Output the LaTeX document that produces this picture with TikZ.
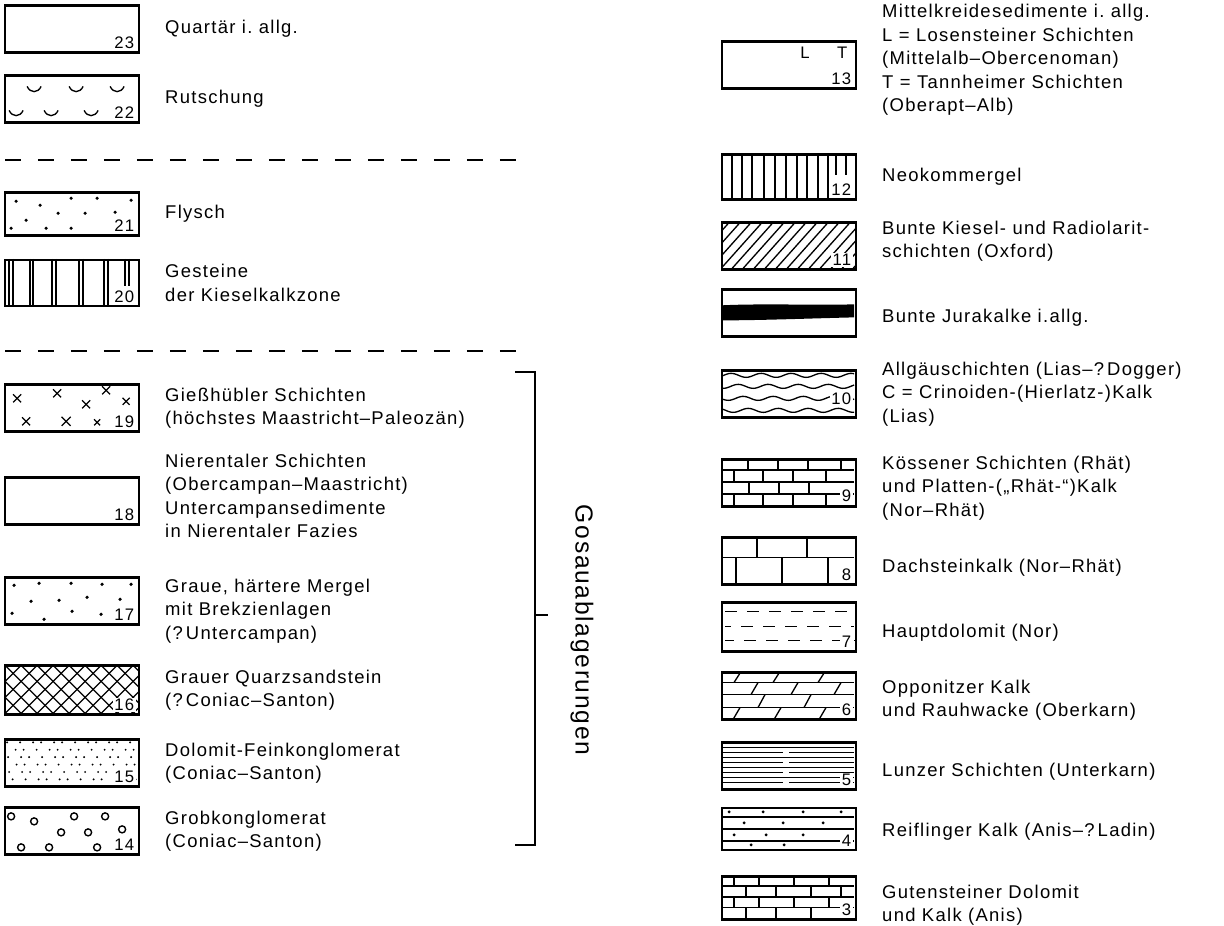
\documentclass[tikz,border=0pt]{standalone}
\usepackage{fontspec}
\setmainfont{Liberation Sans}[LetterSpace=7]
\usetikzlibrary{positioning}
\tikzset{
  legbox/.style={draw, line width=1.3pt, minimum width=2.67cm, minimum height=0.94cm, inner sep=0pt},
  lbl/.style={align=left, inner sep=0pt, font=\fontsize{10.5}{13.4}\selectfont},
  boxnum/.style={anchor=south east, fill=white, inner sep=0.8pt, font=\fontsize{9.5}{9.5}\selectfont},
  hatch/.style={line width=0.75pt},
  sepline/.style={dash pattern=on 0.32cm off 0.34cm, line width=0.8pt},
  brace/.style={line width=0.7pt}
}
\begin{document}
\begin{tikzpicture}[x=0.02cm, y=-0.02cm]
\useasboundingbox (0,0) rectangle (1224,926);

% left column
\node[legbox] (b23) at (72,29) {};
\node[boxnum] (n23) at ([shift={(-4,-3)}]b23.south east) {23};
\node[lbl, right=0.5cm of b23] (t23) {Quartär i.\ allg.};

\node[legbox] (b22) at (72,99) {};
\begin{scope}[shift={(b22.north west)}]
  \clip (b22.south west) rectangle (b22.north east);
  \foreach \x/\y in {30/12, 72/12, 113/12, 12/36, 47/36, 87/36}
    \draw[hatch] (\x-7,\y) .. controls (\x-4,\y+7) and (\x+4,\y+7) .. (\x+7,\y);
\end{scope}
\node[boxnum] (n22) at ([shift={(-4,-3)}]b22.south east) {22};
\node[lbl, right=0.5cm of b22] (t22) {Rutschung};

\coordinate (d1a) at (5,160);
\coordinate (d1b) at (532,160);
\draw[sepline] (d1a) -- (d1b);

\node[legbox, minimum height=0.86cm] (b21) at (72,214) {};
\begin{scope}[shift={(b21.north west)}]
  \foreach \x/\y in {12/10, 36/14, 67/7, 93/7, 127/9, 22/29, 54/22, 81/22, 111/21, 7/37, 42/37, 67/37}
    \fill (\x,\y) circle (1pt);
\end{scope}
\node[boxnum] (n21) at ([shift={(-4,-3)}]b21.south east) {21};
\node[lbl, right=0.5cm of b21] (t21) {Flysch};

\node[legbox, minimum height=0.92cm] (b20) at (72,283) {};
\begin{scope}[shift={(b20.north west)}]
  \foreach \x in {5,9,26,29,48,52,75,79,100,104}
    \draw[hatch] (\x,0) -- (\x,46);
  \foreach \x in {121,125}
    \draw[hatch] (\x,0) -- (\x,27);
\end{scope}
\node[boxnum] (n20) at ([shift={(-4,-3)}]b20.south east) {20};
\node[lbl, right=0.5cm of b20] (t20) {Gesteine\\der Kieselkalkzone};

\coordinate (d2a) at (5,351);
\coordinate (d2b) at (532,351);
\draw[sepline] (d2a) -- (d2b);

\node[legbox] (b19) at (72,408) {};
\begin{scope}[shift={(b19.north west)}]
  \foreach \x/\y/\s in {13/15/4, 53/10/4, 82/21/4, 102/7/4, 122/18/3.5, 22/38/4, 62/38/4.5, 93/39/3}
    \draw[hatch] (\x-\s,\y-\s) -- (\x+\s,\y+\s) (\x-\s,\y+\s) -- (\x+\s,\y-\s);
\end{scope}
\node[boxnum] (n19) at ([shift={(-4,-3)}]b19.south east) {19};
\node[lbl, right=0.5cm of b19] (t19) {Gießhübler Schichten\\(höchstes Maastricht--Paleozän)};

\node[legbox] (b18) at (72,501) {};
\node[boxnum] (n18) at ([shift={(-4,-3)}]b18.south east) {18};
\node[lbl, right=0.5cm of b18, yshift=0.1cm] (t18) {Nierentaler Schichten\\(Obercampan--Maastricht)\\Untercampansedimente\\in Nierentaler Fazies};

\node[legbox] (b17) at (72,601) {};
\begin{scope}[shift={(b17.north west)}]
  \foreach \x/\y in {10/9, 35/7, 67/7, 98/8, 127/8, 27/25, 55/24, 83/21, 116/23, 8/37, 40/43, 68/35, 97/38}
    \fill (\x,\y) circle (1pt);
\end{scope}
\node[boxnum] (n17) at ([shift={(-4,-3)}]b17.south east) {17};
\node[lbl, right=0.5cm of b17, yshift=-0.2cm] (t17) {Graue, härtere Mergel\\mit Brekzienlagen\\(?\,Untercampan)};

\node[legbox, minimum height=0.98cm] (b16) at (72,690) {};
\begin{scope}[shift={(b16.north west)}]
  \clip (b16.south west) rectangle (b16.north east);
  \foreach \k in {-48,-32,...,144} {
    \draw[hatch] (\k,0) -- ++(50,50);
    \draw[hatch] (\k,50) -- ++(50,-50);
  }
\end{scope}
\node[boxnum] (n16) at ([shift={(-4,-3)}]b16.south east) {16};
\node[lbl, right=0.5cm of b16] (t16) {Grauer Quarzsandstein\\(?\,Coniac--Santon)};

\node[legbox] (b15) at (72,763) {};
\begin{scope}[shift={(b15.north west)}]
  \clip (b15.south west) rectangle (b15.north east);
  \foreach \r in {0,...,5}
    \foreach \c in {0,...,11}
      \fill ({5+11*\c+5.5*mod(\r,2)+mod(7*\c+3*\r,5)-2}, {4+7.4*\r}) circle (0.6pt);
\end{scope}
\node[boxnum] (n15) at ([shift={(-4,-3)}]b15.south east) {15};
\node[lbl, right=0.5cm of b15] (t15) {Dolomit-Feinkonglomerat\\(Coniac--Santon)};

\node[legbox] (b14) at (72,831) {};
\begin{scope}[shift={(b14.north west)}]
  \foreach \x/\y in {7/10, 30/15, 70/10, 101/10, 57/26, 84/26, 118/23, 17/41, 45/41, 93/41}
    \draw[line width=0.8pt] (\x,\y) circle (2pt);
\end{scope}
\node[boxnum] (n14) at ([shift={(-4,-3)}]b14.south east) {14};
\node[lbl, right=0.5cm of b14] (t14) {Grobkonglomerat\\(Coniac--Santon)};

% Gosau bracket
\coordinate (gtopl) at (515,372);
\coordinate (gtop) at (535,372);
\coordinate (gbot) at (535,845);
\coordinate (gbotl) at (515,845);
\coordinate (gmid) at (535,615);
\coordinate (gmidr) at (548,615);
\draw[brace] (gtopl) -- (gtop) -- (gbot) -- (gbotl);
\draw[brace] (gmid) -- (gmidr);
\node[rotate=-90, inner sep=0pt, font=\fontsize{14}{16}\selectfont] (gosau) at (582,630) {Gosauablagerungen};

% right column
\node[legbox] (b13) at (789,65) {};
\begin{scope}[shift={(b13.north west)}]
  \node[font=\fontsize{9.5}{9.5}\selectfont, inner sep=0pt] (l13) at (84,12) {L};
  \node[font=\fontsize{9.5}{9.5}\selectfont, inner sep=0pt] (r13) at (121,12) {T};
\end{scope}
\node[boxnum] (n13) at ([shift={(-4,-3)}]b13.south east) {13};
\node[lbl, right=0.5cm of b13, yshift=0.1cm] (t13) {Mittelkreidesedimente i.\ allg.\\L = Losensteiner Schichten\\(Mittelalb--Obercenoman)\\T = Tannheimer Schichten\\(Oberapt--Alb)};

\node[legbox, minimum height=0.9cm] (b12) at (789,177) {};
\begin{scope}[shift={(b12.north west)}]
  \foreach \x in {11,21,31,43,54,65,76,86,97,107}
    \draw[hatch] (\x,0) -- (\x,45);
  \foreach \x in {115,125}
    \draw[hatch] (\x,0) -- (\x,22);
\end{scope}
\node[boxnum] (n12) at ([shift={(-4,-3)}]b12.south east) {12};
\node[lbl, right=0.5cm of b12] (t12) {Neokommergel};

\node[legbox] (b11) at (789,246) {};
\begin{scope}[shift={(b11.north west)}]
  \clip (b11.south west) rectangle (b11.north east);
  \foreach \k in {-44,-33,...,140}
    \draw[hatch] (\k,47) -- ++(42,-47);
\end{scope}
\node[boxnum] (n11) at ([shift={(-4,-3)}]b11.south east) {11};
\node[lbl, right=0.5cm of b11, yshift=0.1cm] (t11) {Bunte Kiesel- und Radiolarit-\\schichten (Oxford)};

\node[legbox] (bj) at (789,313) {};
\begin{scope}[shift={(bj.north west)}]
  \fill (0,17) .. controls (40,15) and (90,17) .. (133,16) -- (133,29) .. controls (90,30) and (40,32) .. (0,32) -- cycle;
\end{scope}
\node[lbl, right=0.5cm of bj, yshift=-0.1cm] (tj) {Bunte Jurakalke i.allg.};

\node[legbox] (b10) at (789,394) {};
\begin{scope}[shift={(b10.north west)}]
  \clip (b10.south west) rectangle (b10.north east);
  \foreach \w in {6,17,29,41}
    \draw[hatch] plot[domain=0:133, samples=70, smooth] (\x, {\w+2*sin(12*\x+25*\w)});
\end{scope}
\node[boxnum, anchor=east] (n10) at ([shift={(-4,5)}]b10.east) {10};
\node[lbl, right=0.5cm of b10] (t10) {Allgäuschichten (Lias--?\,Dogger)\\C = Crinoiden-(Hierlatz-)Kalk\\(Lias)};

\node[legbox] (b9) at (789,483) {};
\begin{scope}[shift={(b9.north west)}]
  \foreach \y in {11.5,23.5,35.5}
    \draw[hatch] (0,\y) -- (133,\y);
  \foreach \x in {27,57,87,120}
    \draw[hatch] (\x,0) -- (\x,11.5);
  \foreach \x in {13,42,72,105} {
    \draw[hatch] (\x,11.5) -- (\x,23.5);
    \draw[hatch] (\x,35.5) -- (\x,47);
  }
  \foreach \x in {28,58,88}
    \draw[hatch] (\x,23.5) -- (\x,35.5);
\end{scope}
\node[boxnum] (n9) at ([shift={(-4,-4)}]b9.south east) {9};
\node[lbl, right=0.5cm of b9, yshift=-0.1cm] (t9) {Kössener Schichten (Rhät)\\und Platten-(„Rhät-“)Kalk\\(Nor--Rhät)};

\node[legbox] (b8) at (789,561) {};
\begin{scope}[shift={(b8.north west)}]
  \draw[hatch] (0,21) -- (133,21);
  \foreach \x in {36,86}
    \draw[hatch] (\x,0) -- (\x,21);
  \foreach \x in {15,61,107}
    \draw[hatch] (\x,21) -- (\x,47);
\end{scope}
\node[boxnum] (n8) at ([shift={(-4,-3)}]b8.south east) {8};
\node[lbl, right=0.5cm of b8, yshift=-0.14cm] (t8) {Dachsteinkalk (Nor--Rhät)};

\node[legbox, minimum height=0.98cm] (b7) at (789,627) {};
\begin{scope}[shift={(b7.north west)}]
  \clip (b7.south west) rectangle (b7.north east);
  \foreach \y/\p in {10/0cm, 25/0.12cm, 39/0.06cm}
    \draw[hatch, dash pattern=on 0.24cm off 0.2cm, dash phase=\p] (4,\y) -- (133,\y);
\end{scope}
\node[boxnum] (n7) at ([shift={(-4,-3)}]b7.south east) {7};
\node[lbl, right=0.5cm of b7, yshift=-0.12cm] (t7) {Hauptdolomit (Nor)};

\node[legbox] (b6) at (789,696) {};
\begin{scope}[shift={(b6.north west)}]
  \clip (b6.south west) rectangle (b6.north east);
  \foreach \y in {11,23,36}
    \draw[hatch] (0,\y) -- (133,\y);
  \foreach \x in {13,52,97}
    \draw[hatch] (\x,11) -- (\x+7,0);
  \foreach \x in {30,70,113}
    \draw[hatch] (\x,23) -- (\x+7,11);
  \foreach \x in {37,83}
    \draw[hatch] (\x,36) -- (\x+7,23);
  \foreach \x in {12,53,98}
    \draw[hatch] (\x,48) -- (\x+7,36);
\end{scope}
\node[boxnum] (n6) at ([shift={(-4,-3)}]b6.south east) {6};
\node[lbl, right=0.5cm of b6, yshift=-0.08cm] (t6) {Opponitzer Kalk\\und Rauhwacke (Oberkarn)};

\node[legbox] (b5) at (789,766) {};
\begin{scope}[shift={(b5.north west)}]
  \foreach \y in {6,16,26,36}
    \draw[hatch] (0,\y) -- (133,\y);
  \foreach \y in {11,21,31,41} {
    \draw[hatch] (0,\y) -- (62,\y);
    \draw[hatch] (68,\y) -- (133,\y);
  }
\end{scope}
\node[boxnum] (n5) at ([shift={(-4,-3)}]b5.south east) {5};
\node[lbl, right=0.5cm of b5, yshift=-0.12cm] (t5) {Lunzer Schichten (Unterkarn)};

\node[legbox, minimum height=0.84cm] (b4) at (789,829) {};
\begin{scope}[shift={(b4.north west)}]
  \foreach \y in {10,22,34}
    \draw[hatch] (0,\y) -- (133,\y);
  \foreach \x/\y in {8/5, 42/5, 82/5, 120/5, 23/16, 62/16, 102/16, 13/28, 45/28, 82/28, 30/38, 63/38}
    \fill (\x,\y) circle (0.9pt);
\end{scope}
\node[boxnum] (n4) at ([shift={(-4,-3)}]b4.south east) {4};
\node[lbl, right=0.5cm of b4, yshift=-0.06cm] (t4) {Reiflinger Kalk (Anis--?\,Ladin)};

\node[legbox, minimum height=0.86cm] (b3) at (789,898) {};
\begin{scope}[shift={(b3.north west)}]
  \foreach \y in {10.75,21.5,32.25}
    \draw[hatch] (0,\y) -- (133,\y);
  \foreach \x in {13,38,73,108} {
    \draw[hatch] (\x,0) -- (\x,10.75);
    \draw[hatch] (\x,21.5) -- (\x,32.25);
  }
  \foreach \x in {25,55,90,120}
    \draw[hatch] (\x,10.75) -- (\x,21.5);
  \foreach \x in {25,55,90}
    \draw[hatch] (\x,32.25) -- (\x,43);
\end{scope}
\node[boxnum] (n3) at ([shift={(-4,-3)}]b3.south east) {3};
\node[lbl, right=0.5cm of b3, yshift=-0.14cm] (t3) {Gutensteiner Dolomit\\und Kalk (Anis)};
\end{tikzpicture}
\end{document}
